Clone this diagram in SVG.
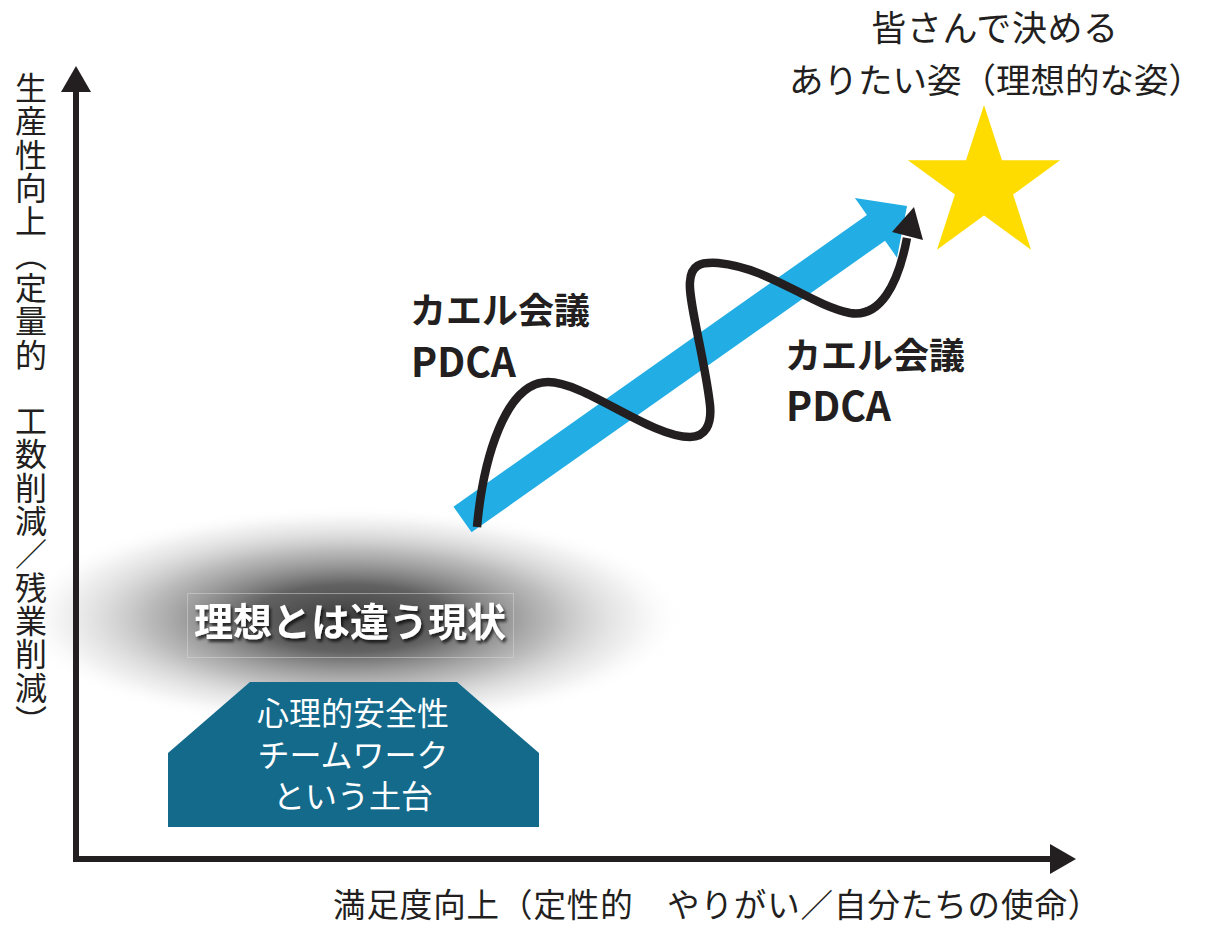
<svg xmlns="http://www.w3.org/2000/svg" width="1205" height="926" viewBox="0 0 1205 926">
  <defs>
    <style>
      text { font-family: 'Noto Sans CJK JP', 'Noto Sans', sans-serif; }
      .lbl { fill: #231f20; font-weight: 400; }
      .bold { fill: #231f20; font-weight: 700; }
      .white { fill: #ffffff; }
      .axis { stroke: #231f20; stroke-width: 6; fill: none; }
      .head { fill: #231f20; }
    </style>
    <radialGradient id="blobGrad" cx="0.5" cy="0.5" r="0.5">
      <stop offset="0" stop-color="#3c3c3c" stop-opacity="1"/>
      <stop offset="0.3" stop-color="#565656" stop-opacity="0.93"/>
      <stop offset="0.6" stop-color="#909090" stop-opacity="0.62"/>
      <stop offset="0.85" stop-color="#d2d2d2" stop-opacity="0.33"/>
      <stop offset="1" stop-color="#ffffff" stop-opacity="0"/>
    </radialGradient>
    <filter id="shadow" x="-10%" y="-30%" width="120%" height="160%">
      <feDropShadow dx="2" dy="3" stdDeviation="1.8" flood-color="#000000" flood-opacity="0.7"/>
    </filter>
  </defs>

  <rect x="0" y="0" width="1205" height="926" fill="#ffffff"/>

  <!-- current state blob -->
  <g id="current-state">
    <ellipse cx="350" cy="618" rx="335" ry="112" fill="url(#blobGrad)"/>
    <rect x="187.5" y="593.5" width="326" height="64" fill="none" stroke="#d8d8d8" stroke-opacity="0.5" stroke-width="1"/>
    <text class="white" x="350" y="636" font-size="39" font-weight="700" text-anchor="middle" filter="url(#shadow)">理想とは違う現状</text>
  </g>

  <!-- axes -->
  <g id="axes">
    <line class="axis" x1="76" y1="88" x2="76" y2="862"/>
    <polygon class="head" points="76,66 91,92 61,92"/>
    <line class="axis" x1="73" y1="859" x2="1052" y2="859"/>
    <polygon class="head" points="1076,859 1050,844 1050,874"/>
  </g>

  <g id="y-label">
    <text class="lbl" x="31" y="72" font-size="32" letter-spacing="1.3" style="writing-mode: vertical-rl;">生産性向上（定量的　工数削減／残業削減）</text>
  </g>

  <g id="x-label">
    <text class="lbl" x="333" y="917" font-size="32.5" letter-spacing="0.9">満足度向上（定性的　やりがい／自分たちの使命）</text>
  </g>

  <g id="goal-label">
    <text class="lbl" x="995" y="41" font-size="35" letter-spacing="0.6" text-anchor="middle">皆さんで決める</text>
    <text class="lbl" x="1203" y="93" font-size="34.5" text-anchor="end">ありたい姿（理想的な姿）</text>
  </g>

  <g id="star">
    <polygon fill="#ffdc00" points="984,105 1002,160.2 1060.1,160.3 1013.1,194.5 1031,249.7 984,215.6 937,249.7 954.9,194.5 907.9,160.3 966,160.2"/>
  </g>

  <!-- foundation -->
  <g id="foundation">
    <polygon fill="#136a8b" points="250,682 457,682 539,753 539,827 168,827 168,753"/>
    <text class="white" x="353" y="725" font-size="32" text-anchor="middle">心理的安全性</text>
    <text class="white" x="353" y="767" font-size="32" text-anchor="middle">チームワーク</text>
    <text class="white" x="353" y="808" font-size="32" text-anchor="middle">という土台</text>
  </g>

  <!-- connectors -->
  <g id="connectors">
    <g id="growth-arrow" transform="translate(462.5,519.5) rotate(-35.2)">
      <polygon fill="#22aee4" points="0,-15.7 506,-15.7 506,-36.5 544,0 506,36.5 506,15.7 0,15.7"/>
    </g>
    <g id="pdca-wave">
      <path d="M477,527 C483,460 505,382 548,382 C585,382 650,437 690,437 C705,437 712,425 710,405 C705,360 688,300 690,282 C691,265 700,262 718,263 C770,268 810,305 850,313 C880,318 898,285 907,238" fill="none" stroke="#231f20" stroke-width="8.5" stroke-linejoin="round"/>
      <polygon class="head" points="914,207 923,240 892,232"/>
    </g>
  </g>

  <g id="pdca-label-1">
    <text class="bold" x="410" y="324" font-size="36">カエル会議</text>
    <text class="bold" x="411" y="377" font-size="40" textLength="105" lengthAdjust="spacingAndGlyphs">PDCA</text>
  </g>
  <g id="pdca-label-2">
    <text class="bold" x="785" y="369" font-size="36">カエル会議</text>
    <text class="bold" x="786" y="421" font-size="40" textLength="105" lengthAdjust="spacingAndGlyphs">PDCA</text>
  </g>
</svg>
